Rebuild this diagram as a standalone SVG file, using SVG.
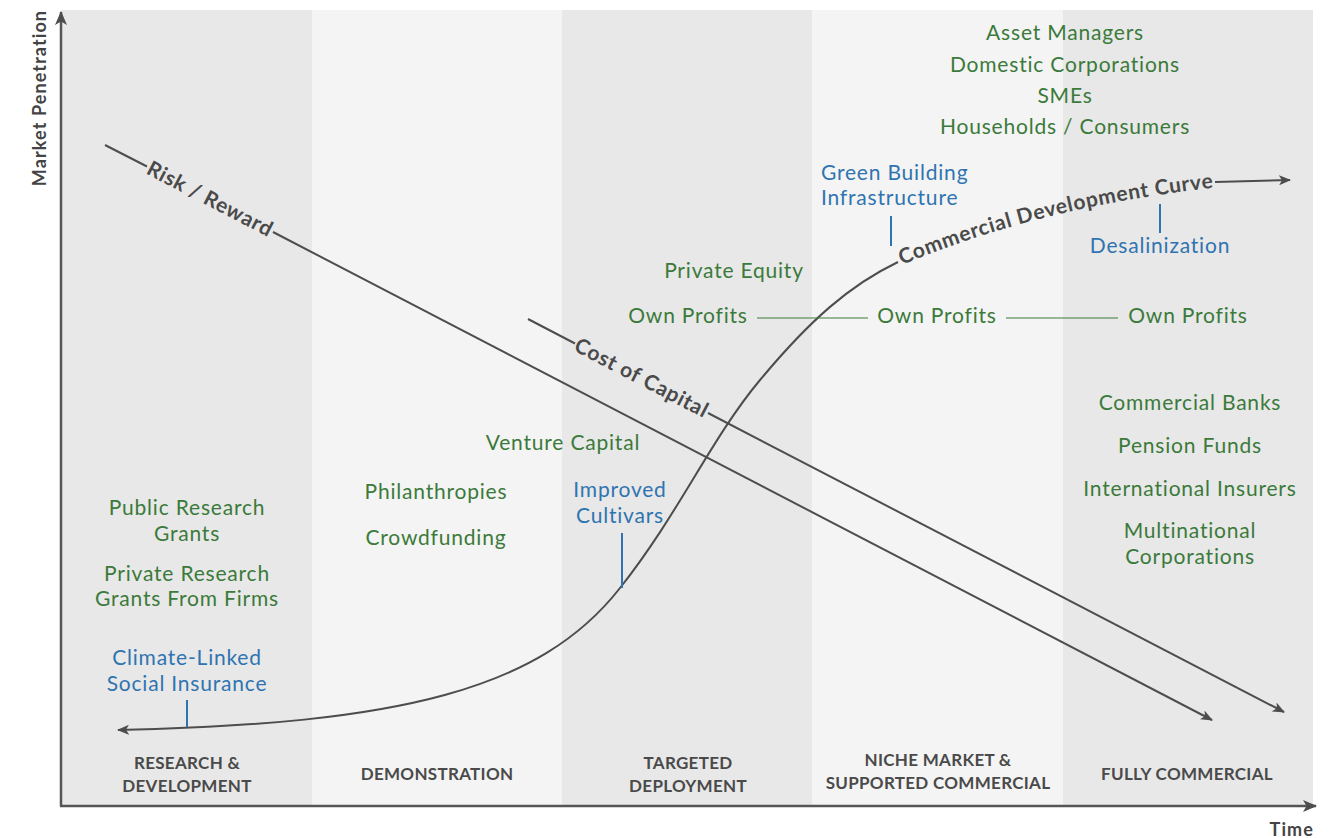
<svg xmlns="http://www.w3.org/2000/svg" width="1336" height="838" viewBox="0 0 1336 838">
<style>
.g{font-family:Lato,"Noto Sans",sans-serif;font-size:21px;letter-spacing:0.8px;fill:#3b7a3a;text-anchor:middle}
.b{font-family:Lato,"Noto Sans",sans-serif;font-size:21px;letter-spacing:0.8px;fill:#2f74b0;text-anchor:middle}
.h{font-family:Lato,"Noto Sans",sans-serif;font-size:17px;letter-spacing:0.3px;font-weight:bold;fill:#4a4a4a;text-anchor:middle}
.ax{font-family:Lato,"Noto Sans",sans-serif;font-size:18px;letter-spacing:1.1px;font-weight:bold;fill:#444}
.cl{font-family:Lato,"Noto Sans",sans-serif;font-size:21px;letter-spacing:0.7px;font-weight:bold;fill:#4a4a4a}
.ln{fill:none;stroke:#4d4d4d;stroke-width:2}
.tk{stroke:#2f74b0;stroke-width:2}
.gl{stroke:#3b7a3a;stroke-width:1.2}
</style>
<defs>
<marker id="arr" viewBox="0 0 12 10" refX="11" refY="5" markerWidth="12" markerHeight="10" markerUnits="userSpaceOnUse" orient="auto">
<path d="M0,0 L12,5 L0,10 L3,5 z" fill="#4d4d4d"/>
</marker>
<marker id="arrB" viewBox="0 0 14 12" refX="13" refY="6" markerWidth="14" markerHeight="12" markerUnits="userSpaceOnUse" orient="auto">
<path d="M0,0 L14,6 L0,12 L3.5,6 z" fill="#4d4d4d"/>
</marker>
<path id="cdc" d="M902 265 Q 1040 207 1212 188"/>
</defs>
<rect x="0" y="0" width="1336" height="838" fill="#ffffff"/>
<g id="bands">
<rect x="61" y="10" width="251" height="795" fill="#e8e8e8"/>
<rect x="312" y="10" width="250" height="795" fill="#f4f4f4"/>
<rect x="562" y="10" width="250" height="795" fill="#e8e8e8"/>
<rect x="812" y="10" width="251" height="795" fill="#f4f4f4"/>
<rect x="1063" y="10" width="250" height="795" fill="#e8e8e8"/>
</g>
<g id="axes">
<line x1="61" y1="806" x2="61" y2="12" stroke="#555" stroke-width="2.5" marker-end="url(#arrB)"/>
<line x1="60" y1="806" x2="1316" y2="806" stroke="#555" stroke-width="2.5" marker-end="url(#arrB)"/>
<text class="ax" transform="translate(46,98) rotate(-90)" text-anchor="middle">Market Penetration</text>
<text class="ax" x="1314" y="836" text-anchor="end">Time</text>
</g>
<g id="connectors">
<path class="ln" d="M105 145 L147 166.5"/>
<path class="ln" d="M273 232 L1212 720" marker-end="url(#arr)"/>
<path class="ln" d="M528 319 L575 343.5"/>
<path class="ln" d="M708 413 L1284 712" marker-end="url(#arr)"/>
<path class="ln" d="M898 262 C 850 285 810 320 760 380 C 710 440 680 512 620 588 C 540 690 400 724 118 730" marker-end="url(#arr)"/>
<path class="ln" d="M1215 182 L1290 180" marker-end="url(#arr)"/>
<line class="gl" x1="757" y1="318" x2="868" y2="318"/>
<line class="gl" x1="1006" y1="318" x2="1118" y2="318"/>
<line class="tk" x1="891" y1="216" x2="891" y2="246"/>
<line class="tk" x1="1160" y1="204" x2="1160" y2="233"/>
<line class="tk" x1="622" y1="533" x2="622" y2="588"/>
<line class="tk" x1="187" y1="700" x2="187" y2="727"/>
</g>
<g id="curve-labels">
<text class="cl" transform="translate(210,199) rotate(27.45)" x="0" y="7" text-anchor="middle">Risk / Reward</text>
<text class="cl" transform="translate(641.5,378) rotate(27.45)" x="0" y="7" text-anchor="middle">Cost of Capital</text>
<text class="cl"><textPath href="#cdc" startOffset="0">Commercial Development Curve</textPath></text>
</g>
<g id="stage-labels">
<g id="stage-rd"><text class="h" x="187" y="769">RESEARCH &amp;</text><text class="h" x="187" y="792">DEVELOPMENT</text></g>
<g id="stage-demo"><text class="h" x="437" y="780">DEMONSTRATION</text></g>
<g id="stage-targeted"><text class="h" x="688" y="769">TARGETED</text><text class="h" x="688" y="792">DEPLOYMENT</text></g>
<g id="stage-niche"><text class="h" x="938" y="766">NICHE MARKET &amp;</text><text class="h" x="938" y="789">SUPPORTED COMMERCIAL</text></g>
<g id="stage-full"><text class="h" x="1187" y="780">FULLY COMMERCIAL</text></g>
</g>
<g id="n-asset"><text class="g" x="1065" y="40">Asset Managers</text></g>
<g id="n-domestic"><text class="g" x="1065" y="72">Domestic Corporations</text></g>
<g id="n-smes"><text class="g" x="1065" y="103">SMEs</text></g>
<g id="n-households"><text class="g" x="1065" y="134">Households / Consumers</text></g>
<g id="n-green"><text class="b" x="821" y="180" style="text-anchor:start">Green Building</text><text class="b" x="821" y="205" style="text-anchor:start">Infrastructure</text></g>
<g id="n-desal"><text class="b" x="1160" y="253">Desalinization</text></g>
<g id="n-pe"><text class="g" x="734" y="278">Private Equity</text></g>
<g id="n-own1"><text class="g" x="688" y="323">Own Profits</text></g>
<g id="n-own2"><text class="g" x="937" y="323">Own Profits</text></g>
<g id="n-own3"><text class="g" x="1188" y="323">Own Profits</text></g>
<g id="n-banks"><text class="g" x="1190" y="410">Commercial Banks</text></g>
<g id="n-pension"><text class="g" x="1190" y="453">Pension Funds</text></g>
<g id="n-insurers"><text class="g" x="1190" y="496">International Insurers</text></g>
<g id="n-multi"><text class="g" x="1190" y="538">Multinational</text><text class="g" x="1190" y="564">Corporations</text></g>
<g id="n-vc"><text class="g" x="563" y="450">Venture Capital</text></g>
<g id="n-phil"><text class="g" x="436" y="499">Philanthropies</text></g>
<g id="n-crowd"><text class="g" x="436" y="545">Crowdfunding</text></g>
<g id="n-cultivars"><text class="b" x="620" y="497">Improved</text><text class="b" x="620" y="523">Cultivars</text></g>
<g id="n-public"><text class="g" x="187" y="515">Public Research</text><text class="g" x="187" y="541">Grants</text></g>
<g id="n-private"><text class="g" x="187" y="581">Private Research</text><text class="g" x="187" y="606">Grants From Firms</text></g>
<g id="n-climate"><text class="b" x="187" y="665">Climate-Linked</text><text class="b" x="187" y="691">Social Insurance</text></g>
</svg>
